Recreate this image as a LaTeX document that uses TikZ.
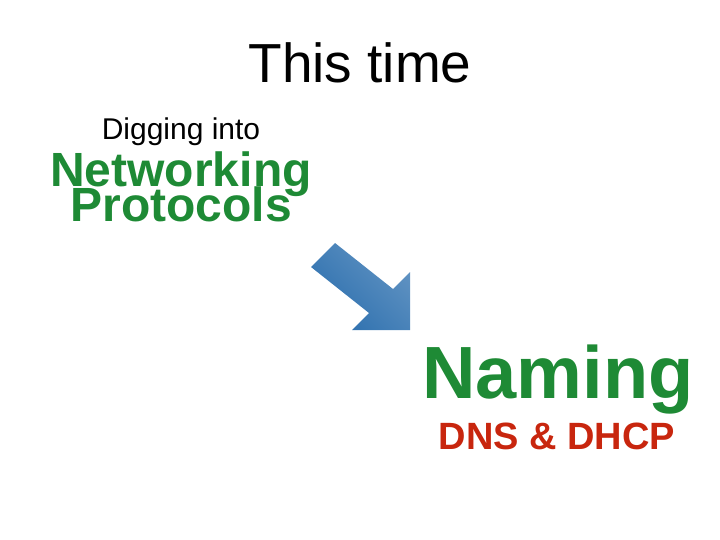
\documentclass[tikz,border=0pt]{standalone}
\usepackage{fontspec}
\setmainfont{Liberation Sans}
\definecolor{netgreen}{HTML}{1E8A35}
\definecolor{dnsred}{HTML}{C8260E}
\definecolor{arrowblue}{HTML}{2C6FAE}
\tikzset{bigtitle/.style={anchor=base, inner sep=0pt, font=\fontsize{55}{55}\selectfont},
  greenbold/.style={anchor=base, inner sep=0pt, text depth=0pt, text=netgreen, font=\bfseries}}
\begin{document}
\begin{tikzpicture}[x=1pt,y=-1pt]
\useasboundingbox (0,0) rectangle (720,540);
% titles
\node[bigtitle]                                        (title) at (360,83) {This time};
\node[anchor=base, inner sep=0pt, font=\fontsize{30}{30}\selectfont] (dig) at (181,140) {Digging into};
\node[greenbold, font=\bfseries\fontsize{48}{48}\selectfont] (net)  at (181,187) {Networking};
\node[greenbold, font=\bfseries\fontsize{48}{48}\selectfont] (prot) at (181,222) {Protocols};
\node[greenbold, font=\bfseries\fontsize{74}{74}\selectfont] (nam)  at (558,398) {Naming};
\node[anchor=base, inner sep=0pt, text=dnsred, font=\bfseries\fontsize{38}{38}\selectfont] (dns) at (557,449) {DNS \& DHCP};
% arrow
\shade[top color=arrowblue!75, bottom color=arrowblue, shading angle=-45]
  (311,267) -- (335,243) -- (393,289) -- (410,272) -- (410,330)
  -- (352,330) -- (369,313) -- cycle;
\end{tikzpicture}
\end{document}
